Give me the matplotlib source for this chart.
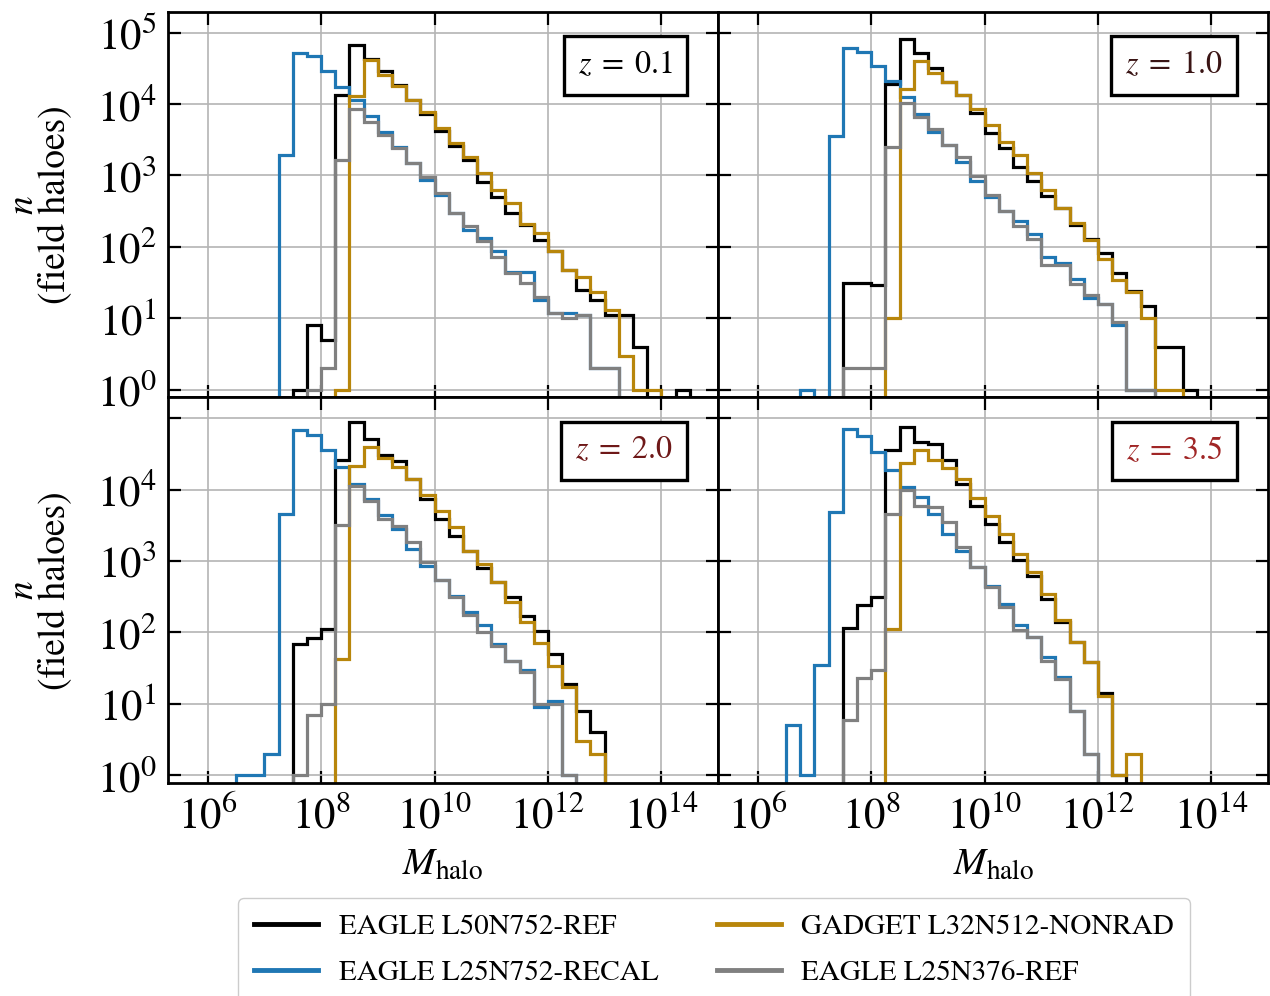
import numpy as np
import matplotlib
matplotlib.use("Agg")
import matplotlib.pyplot as plt
from matplotlib import ticker
from matplotlib.lines import Line2D

plt.rcParams['font.family'] = 'STIXGeneral'
plt.rcParams['mathtext.fontset'] = 'stix'

# halo mass bins: log10(M) from 6.5 to 14.5 in 0.25 dex steps (32 bins)
log_edges = np.arange(6.5, 14.51, 0.25)

# counts per bin
ref50_z01 = [0, 0, 0, 0, 1, 8, 5, 13500, 67600, 42700, 28800, 18600, 11500, 7240, 4170, 2570,
             1660, 813, 500, 302, 204, 126, 87, 48, 25, 18, 11, 11, 4, 0, 0, 1]
recal_z01 = [0, 0, 0, 1950, 52500, 46800, 28800, 17400, 11500, 6760, 4070, 2510, 1480, 871, 525, 295,
             174, 132, 89, 45, 45, 18, 12, 12, 11, 2, 2, 0, 0, 0, 0, 0]
gadget_z01 = [0, 0, 0, 0, 0, 0, 0, 1, 12900, 41700, 25700, 17800, 11500, 7760, 4570, 2820,
              1820, 1070, 631, 407, 209, 158, 87, 48, 38, 23, 13, 3, 1, 1, 0, 0]
ref25_z01 = [0, 0, 0, 0, 0, 1, 2, 1660, 8510, 5620, 3720, 2400, 1480, 955, 562, 302,
             195, 120, 72, 43, 31, 20, 12, 10, 11, 2, 2, 0, 0, 0, 0, 0]

ref50_z10 = [0, 0, 0, 0, 31, 31, 29, 19100, 81300, 51300, 31600, 20400, 13500, 7410, 3980, 2400,
             1320, 851, 513, 347, 204, 129, 81, 43, 24, 15, 4, 4, 1, 0, 0, 0]
recal_z10 = [0, 1, 0, 3550, 61700, 53700, 33900, 20900, 12600, 7240, 4070, 2690, 1550, 851, 501, 316,
             229, 151, 72, 60, 36, 19, 16, 8, 1, 1, 0, 0, 0, 0, 0, 0]
gadget_z10 = [0, 0, 0, 0, 0, 0, 0, 10, 16200, 39800, 27500, 20400, 13500, 8510, 5130, 2950,
              1950, 1070, 631, 347, 219, 123, 68, 34, 23, 10, 1, 1, 0, 0, 0, 0]
ref25_z10 = [0, 0, 0, 0, 2, 2, 2, 2510, 10500, 6610, 4470, 2690, 1820, 977, 537, 316,
             195, 129, 56, 56, 30, 21, 16, 9, 1, 1, 0, 0, 0, 0, 0, 0]

ref50_z20 = [0, 0, 0, 0, 68, 83, 112, 25700, 87100, 51300, 30900, 25100, 14100, 7410, 3890, 2240,
             1380, 794, 501, 316, 170, 105, 50, 19, 8, 4, 0, 0, 0, 0, 0, 0]
recal_z20 = [1, 1, 2, 4570, 67600, 58900, 36300, 20900, 12000, 7410, 4470, 2820, 1480, 851, 537, 324,
             195, 129, 69, 40, 30, 9, 11, 1, 0, 0, 0, 0, 0, 0, 0, 0]
gadget_z20 = [0, 0, 0, 0, 0, 0, 0, 42, 21400, 39800, 27500, 20900, 14100, 8510, 5010, 2950,
              1380, 912, 513, 269, 138, 72, 34, 17, 3, 2, 0, 0, 0, 0, 0, 0]
ref25_z20 = [0, 0, 0, 0, 1, 7, 10, 3160, 11200, 6920, 3890, 3090, 1860, 955, 537, 309,
             178, 100, 65, 40, 28, 10, 10, 1, 0, 0, 0, 0, 0, 0, 0, 0]

ref50_z35 = [0, 0, 0, 0, 115, 245, 309, 35500, 75900, 45700, 43700, 25700, 12000, 5890, 3310, 1860,
             1020, 617, 295, 141, 74, 39, 14, 1, 0, 0, 0, 0, 0, 0, 0, 0]
recal_z35 = [5, 1, 35, 4900, 70800, 56200, 33100, 18600, 10700, 7940, 4570, 2400, 1380, 813, 447, 251,
             129, 87, 45, 24, 8, 2, 0, 0, 0, 0, 0, 0, 0, 0, 0, 0]
gadget_z35 = [0, 0, 0, 0, 0, 0, 0, 112, 23400, 36300, 25700, 20000, 14100, 7590, 4270, 2400,
              1260, 692, 347, 151, 74, 39, 13, 1, 2, 0, 0, 0, 0, 0, 0, 0]
ref25_z35 = [0, 0, 0, 0, 6, 23, 30, 4570, 9770, 5890, 5620, 3470, 1580, 813, 427, 229,
             107, 87, 40, 22, 8, 2, 0, 0, 0, 0, 0, 0, 0, 0, 0, 0]

sim_names = ["EAGLE L50N752-REF", "EAGLE L25N752-RECAL", "GADGET L32N512-NONRAD", "EAGLE L25N376-REF"]
sim_colors = ["black", "#1f77b4", "#b8860b", "#808080"]
z_labels = [r"$z\;=\;0.1$", r"$z\;=\;1.0$", r"$z\;=\;2.0$", r"$z\;=\;3.5$"]
z_colors = ["#000000", "#3a1414", "#6e1818", "#a02626"]

panels = [
    [ref50_z01, recal_z01, gadget_z01, ref25_z01],
    [ref50_z10, recal_z10, gadget_z10, ref25_z10],
    [ref50_z20, recal_z20, gadget_z20, ref25_z20],
    [ref50_z35, recal_z35, gadget_z35, ref25_z35],
]

fig, axes = plt.subplots(2, 2, figsize=(12.7, 9.96), dpi=100)
fig.subplots_adjust(left=0.1323, right=0.9985, top=0.988, bottom=0.2139, wspace=0, hspace=0)

edges = 10 ** log_edges
for k, ax in enumerate(axes.flat):
    for counts, col in zip(panels[k], sim_colors):
        c = np.array(counts, dtype=float)
        ax.stairs(np.where(c > 0, c, 1e-3), edges, baseline=1e-3, color=col, lw=2.3)

    ax.set_xscale("log")
    ax.set_yscale("log")
    ax.set_xlim(10 ** 5.3, 10 ** 15)
    ax.set_ylim(0.78, 1.95e5)
    ax.set_xticks([1e6, 1e8, 1e10, 1e12, 1e14])
    ax.set_yticks([1, 1e1, 1e2, 1e3, 1e4, 1e5])
    ax.xaxis.set_minor_locator(ticker.NullLocator())
    ax.yaxis.set_minor_locator(ticker.NullLocator())
    ax.grid(True, color="#b4b4b4", lw=1.2)
    ax.set_axisbelow(True)
    ax.tick_params(which="major", direction="in", length=9, width=1.6,
                   top=True, right=True, labelsize=31)
    ax.tick_params(axis="x", pad=9)
    ax.tick_params(axis="y", pad=8)
    for s in ax.spines.values():
        s.set_linewidth(2)

    row, colno = divmod(k, 2)
    if row == 0:
        ax.tick_params(labelbottom=False)
    else:
        ax.set_xlabel(r"$M_{\rm halo}$", fontsize=28)
        ax.xaxis.set_label_coords(0.5, -0.17)
    if colno == 1:
        ax.tick_params(labelleft=False)
    else:
        ax.set_ylabel("$n$\n(field haloes)", fontsize=27, linespacing=0.9)
        ax.yaxis.set_label_coords(-0.172, 0.5)

    ax.text(0.918, 0.9, z_labels[k], transform=ax.transAxes, ha="right", va="top",
            fontsize=23, color=z_colors[k],
            bbox=dict(boxstyle="square,pad=0.45", fc="white", ec="black", lw=2.4))

# hide the 10^5 label on the lower-left panel
fmt = ticker.LogFormatterMathtext()
axes[1, 0].yaxis.set_major_formatter(ticker.FuncFormatter(lambda v, p: "" if v > 5e4 else fmt(v, p)))

handles = [Line2D([], [], color=c, lw=3.5) for c in sim_colors]
fig.legend(handles, sim_names, loc="upper left", bbox_to_anchor=(238 / 1270, 1 - 898 / 996),
           borderaxespad=0, ncol=2, fontsize=21, handlelength=2.2, handletextpad=0.7,
           columnspacing=2.0, labelspacing=0.65, borderpad=0.55, fancybox=True,
           edgecolor="#cccccc", framealpha=1)

fig.savefig("out.png", dpi=100)
